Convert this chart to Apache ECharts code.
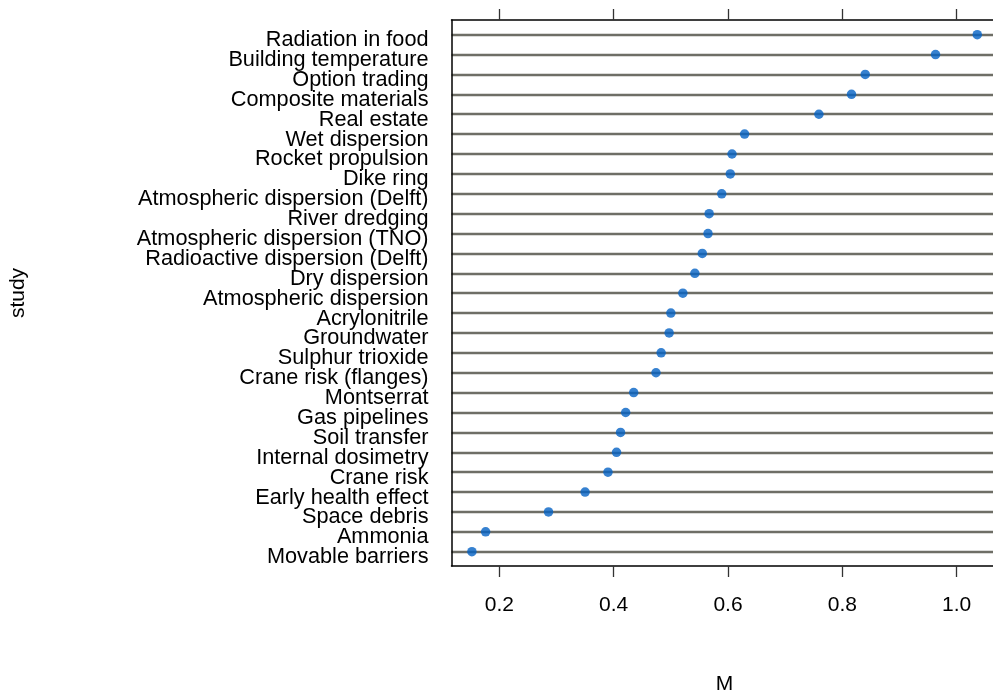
<!DOCTYPE html>
<html>
<head>
<meta charset="utf-8">
<script src="https://cdn.jsdelivr.net/npm/echarts@6/dist/echarts.min.js"></script>
<style>
html,body{margin:0;padding:0;background:#fff;}
#chart{width:993px;height:692px;}
</style>
</head>
<body>
<div id="chart"></div>
<script>
// Categories listed top to bottom
var studies = [
  "Radiation in food", "Building temperature", "Option trading", "Composite materials",
  "Real estate", "Wet dispersion", "Rocket propulsion", "Dike ring",
  "Atmospheric dispersion (Delft)", "River dredging", "Atmospheric dispersion (TNO)",
  "Radioactive dispersion (Delft)", "Dry dispersion", "Atmospheric dispersion",
  "Acrylonitrile", "Groundwater", "Sulphur trioxide", "Crane risk (flanges)",
  "Montserrat", "Gas pipelines", "Soil transfer", "Internal dosimetry", "Crane risk",
  "Early health effect", "Space debris", "Ammonia", "Movable barriers"
];
var mValues = [
  1.036, 0.963, 0.840, 0.816,
  0.759, 0.629, 0.607, 0.604,
  0.589, 0.567, 0.565,
  0.555, 0.542, 0.521,
  0.500, 0.497, 0.483, 0.474,
  0.435, 0.421, 0.412, 0.405, 0.390,
  0.350, 0.286, 0.176, 0.152
];
var xTicks = [0.2, 0.4, 0.6, 0.8, 1.0];
var xMin = 0.1163, xMax = 1.0714;

var FONT = "'Liberation Sans', Arial, Helvetica, sans-serif";
var chart = echarts.init(document.getElementById('chart'), null, {renderer: 'canvas'});

var gridLeft = 451.5, gridWidth = 546;

var option = {
  backgroundColor: '#ffffff',
  animation: false,
  grid: [
    {left: gridLeft, top: 34.7, width: gridWidth, height: 517, outerBoundsMode: 'none', containLabel: false},
    {left: gridLeft, top: 20, width: gridWidth, height: 546, outerBoundsMode: 'none', containLabel: false},
    {left: gridLeft, top: 40.2, width: gridWidth, height: 517, outerBoundsMode: 'none', containLabel: false}
  ],
  xAxis: [
    {
      gridIndex: 0, type: 'value', min: xMin, max: xMax, show: false
    },
    {
      gridIndex: 1, type: 'value', min: xMin, max: xMax, position: 'bottom',
      name: 'M', nameLocation: 'middle', nameGap: 108,
      nameTextStyle: {fontFamily: FONT, fontSize: 21, color: '#000', verticalAlign: 'top'},
      axisLine: {show: true, onZero: false, lineStyle: {color: '#000', width: 1.5}},
      axisTick: {show: true, length: 11, customValues: xTicks, lineStyle: {color: '#333', width: 1.3}},
      axisLabel: {
        show: true, customValues: xTicks, margin: 29,
        fontFamily: FONT, fontSize: 21, color: '#000',
        formatter: function (v) { return v.toFixed(1); }
      },
      splitLine: {show: false}
    },
    {
      gridIndex: 1, type: 'value', min: xMin, max: xMax, position: 'top',
      axisLine: {show: true, onZero: false, lineStyle: {color: '#000', width: 1.5}},
      axisTick: {show: true, length: 11, customValues: xTicks, lineStyle: {color: '#333', width: 1.3}},
      axisLabel: {show: false},
      splitLine: {show: false}
    },
    {
      gridIndex: 2, type: 'value', min: xMin, max: xMax, show: false
    }
  ],
  yAxis: [
    {
      gridIndex: 0, type: 'category', data: studies, inverse: true, boundaryGap: false,
      axisLine: {show: false},
      axisTick: {show: false},
      axisLabel: {show: false},
      splitLine: {show: true, interval: 0, lineStyle: {color: '#6e6e66', width: 2.4}}
    },
    {
      gridIndex: 1, type: 'value', min: 0, max: 1, position: 'left',
      name: 'study', nameLocation: 'middle', nameGap: 423, nameRotate: 90,
      nameTextStyle: {fontFamily: FONT, fontSize: 21, color: '#000'},
      axisLine: {show: true, onZero: false, lineStyle: {color: '#000', width: 1.5}},
      axisTick: {show: false},
      axisLabel: {show: false},
      splitLine: {show: false}
    },
    {
      gridIndex: 2, type: 'category', data: studies, inverse: true, boundaryGap: false,
      axisLine: {show: false},
      axisTick: {show: false},
      axisLabel: {
        show: true, interval: 0, margin: 23,
        fontFamily: FONT, fontSize: 21.7, color: '#000'
      },
      splitLine: {show: false}
    }
  ],
  series: [
    {
      type: 'scatter',
      xAxisIndex: 0, yAxisIndex: 0,
      symbol: 'circle', symbolSize: 9.5,
      itemStyle: {color: '#0461c4'},
      data: studies.map(function (s, i) { return [mValues[i], s]; }),
      z: 5
    }
  ]
};
chart.setOption(option);
</script>
</body>
</html>
